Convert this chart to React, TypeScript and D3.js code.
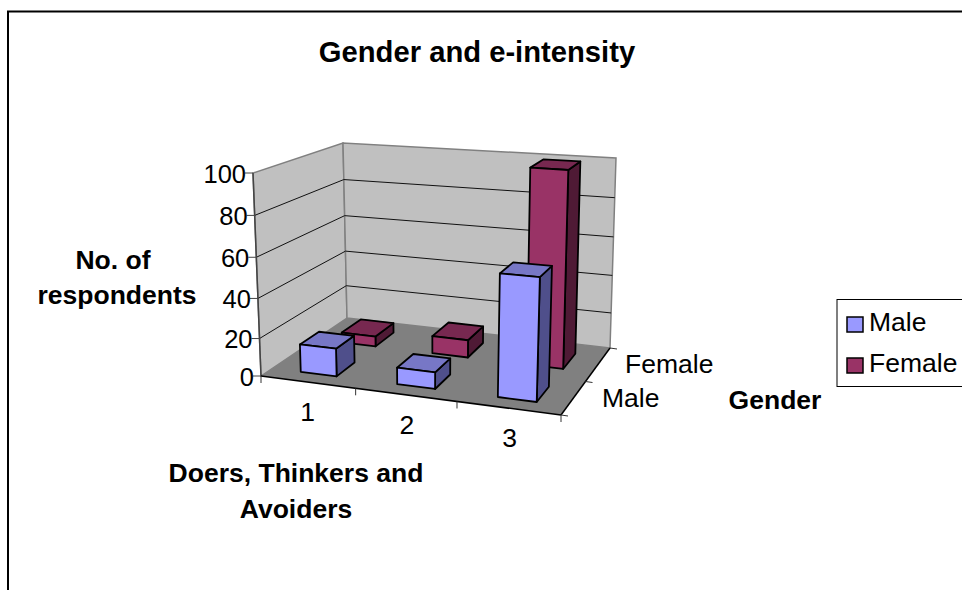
import React from "react";
import * as d3 from "d3";

const title = "Gender and e-intensity";
const categories = ["1", "2", "3"];
const seriesNames = ["Male", "Female"];
const maleValues = [15, 9, 60];
const femaleValues = [6, 10, 100];
const valueTicks = [0, 20, 40, 60, 80, 100];

const COLORS: Record<string, { front: string; top: string; side: string }> = {
  Male: { front: "#9999FF", top: "#7777C6", side: "#4F4F8B" },
  Female: { front: "#993366", top: "#772850", side: "#4F1A35" },
};

type P = [number, number];
// corner positions of the 3D box: [u][v][w]  (u: category, v: value, w: depth)
const corners: Record<string, P> = {
  "000": [261, 376],
  "010": [253, 173],
  "001": [347, 318],
  "011": [343, 143],
  "100": [561, 415],
  "110": [568, 196],
  "101": [610, 348],
  "111": [616, 158],
};

// slight power curves stand in for the chart's perspective foreshortening
const uScale = d3.scalePow().exponent(1.05).domain([0, categories.length]).range([0, 1]);
const vScale = d3.scalePow().exponent(1.05).domain([0, 100]).range([0, 1]);
const wScale = d3.scaleLinear().domain([0, seriesNames.length]).range([0, 1]);

function project(u: number, v: number, w: number): P {
  let x = 0, y = 0;
  for (const a of [0, 1]) for (const b of [0, 1]) for (const c of [0, 1]) {
    const k = (a ? u : 1 - u) * (b ? v : 1 - v) * (c ? w : 1 - w);
    const p = corners[`${a}${b}${c}`];
    x += k * p[0];
    y += k * p[1];
  }
  return [x, y];
}

const poly = (pts: P[]) => d3.line()(pts)! + "Z";
const seg = (a: P, b: P) => d3.line()([a, b])!;

const FF = "'Liberation Sans', Arial, sans-serif";
const LABEL = 26.5;
const TICK = 25.5;

function Bar({ cat, ser, value }: { cat: number; ser: number; value: number }) {
  const c = COLORS[seriesNames[ser]];
  const u0 = uScale(cat + 0.32), u1 = uScale(cat + 0.7);
  const w0 = wScale(ser + 0.27), w1 = wScale(ser + 0.73);
  const v = vScale(value);
  const S = { stroke: "#000", strokeWidth: 1.8, strokeLinejoin: "round" as const };
  return (
    <g>
      <path d={poly([project(u1, 0, w0), project(u1, 0, w1), project(u1, v, w1), project(u1, v, w0)])} fill={c.side} {...S} />
      <path d={poly([project(u0, v, w0), project(u1, v, w0), project(u1, v, w1), project(u0, v, w1)])} fill={c.top} {...S} />
      <path d={poly([project(u0, 0, w0), project(u1, 0, w0), project(u1, v, w0), project(u0, v, w0)])} fill={c.front} {...S} />
    </g>
  );
}

export default function App() {
  const axisV = (val: number) => vScale(val);
  return (
    <svg width={962} height={590} style={{ position: "fixed", left: 0, top: 0, background: "#fff" }} fontFamily={FF}>
      {/* frame */}
      <path d="M8,590 V11.5 H962" fill="none" stroke="#000" strokeWidth={2} />
      <text x={477} y={62} textAnchor="middle" fontSize={29.2} fontWeight="bold">{title}</text>

      {/* walls */}
      <path d={poly([project(0, 0, 0), project(0, 1, 0), project(0, 1, 1), project(0, 0, 1)])} fill="#C0C0C0" stroke="#808080" strokeWidth={1.5} />
      <path d={poly([project(0, 0, 1), project(0, 1, 1), project(1, 1, 1), project(1, 0, 1)])} fill="#C0C0C0" stroke="#808080" strokeWidth={1.5} />
      {/* floor */}
      <path d={poly([project(0, 0, 0), project(1, 0, 0), project(1, 0, 1), project(0, 0, 1)])} fill="#808080" />

      {/* gridlines */}
      {valueTicks.filter((t) => t > 0 && t < 100).map((t) => (
        <path key={t} fill="none" stroke="#111" strokeWidth={1}
          d={d3.line()([project(0, axisV(t), 0), project(0, axisV(t), 1), project(1, axisV(t), 1)])!} />
      ))}
      <path d={seg(project(0, 1, 0), project(0, 0, 0))} stroke="#444" strokeWidth={1.5} />

      {/* axis lines and ticks */}
      <path d={seg(project(0, 0, 0), project(1, 0, 0))} stroke="#000" strokeWidth={1.5} />
      <path d={seg(project(1, 0, 0), project(1, 0, 1))} stroke="#000" strokeWidth={1.5} />
      {valueTicks.map((t) => {
        const p = project(0, axisV(t), 0);
        return <path key={t} d={seg(p, [p[0] - 8, p[1]])} stroke="#444" strokeWidth={1} />;
      })}
      {d3.range(categories.length + 1).map((i) => {
        const p = project(uScale(i), 0, 0);
        return <path key={i} d={seg(p, [p[0], p[1] + 7])} stroke="#333" strokeWidth={1} />;
      })}
      {d3.range(seriesNames.length + 1).map((i) => {
        const p = project(1, 0, wScale(i));
        return <path key={i} d={seg(p, [p[0] + 7, p[1] + 1])} stroke="#333" strokeWidth={1} />;
      })}

      {/* bars: back row first */}
      {femaleValues.map((v, i) => <Bar key={"f" + i} cat={i} ser={1} value={v} />)}
      {maleValues.map((v, i) => <Bar key={"m" + i} cat={i} ser={0} value={v} />)}

      {/* value tick labels */}
      {valueTicks.map((t) => {
        const p = project(0, axisV(t), 0);
        return <text key={t} x={p[0] - 7} y={p[1] + 9.5} textAnchor="end" fontSize={TICK}>{t}</text>;
      })}
      {/* category labels */}
      {categories.map((c, i) => {
        const p = project(uScale(i + 0.5), 0, 0);
        return <text key={c} x={p[0] + 1} y={p[1] + 39} textAnchor="middle" fontSize={LABEL}>{c}</text>;
      })}
      {/* series labels */}
      <text x={602} y={407} fontSize={LABEL}>{seriesNames[0]}</text>
      <text x={625} y={373} fontSize={LABEL}>{seriesNames[1]}</text>

      {/* axis titles */}
      <g fontWeight="bold" fontSize={LABEL} textAnchor="middle">
        <text x={113} y={269}>No. of</text>
        <text x={117} y={304}>respondents</text>
        <text x={296} y={482}>Doers, Thinkers and</text>
        <text x={296} y={518}>Avoiders</text>
        <text x={775} y={409}>Gender</text>
      </g>

      {/* legend */}
      <rect x={837} y={299.5} width={140} height={87} fill="#fff" stroke="#000" strokeWidth={1} />
      {seriesNames.map((s, i) => {
        const y = d3.scaleLinear().domain([0, 1]).range([317, 358])(i);
        return (
          <g key={s}>
            <rect x={847} y={y} width={16} height={15} fill={COLORS[s].front} stroke="#000" strokeWidth={1.5} />
            <text x={869} y={y + 14} fontSize={LABEL}>{s}</text>
          </g>
        );
      })}
    </svg>
  );
}
